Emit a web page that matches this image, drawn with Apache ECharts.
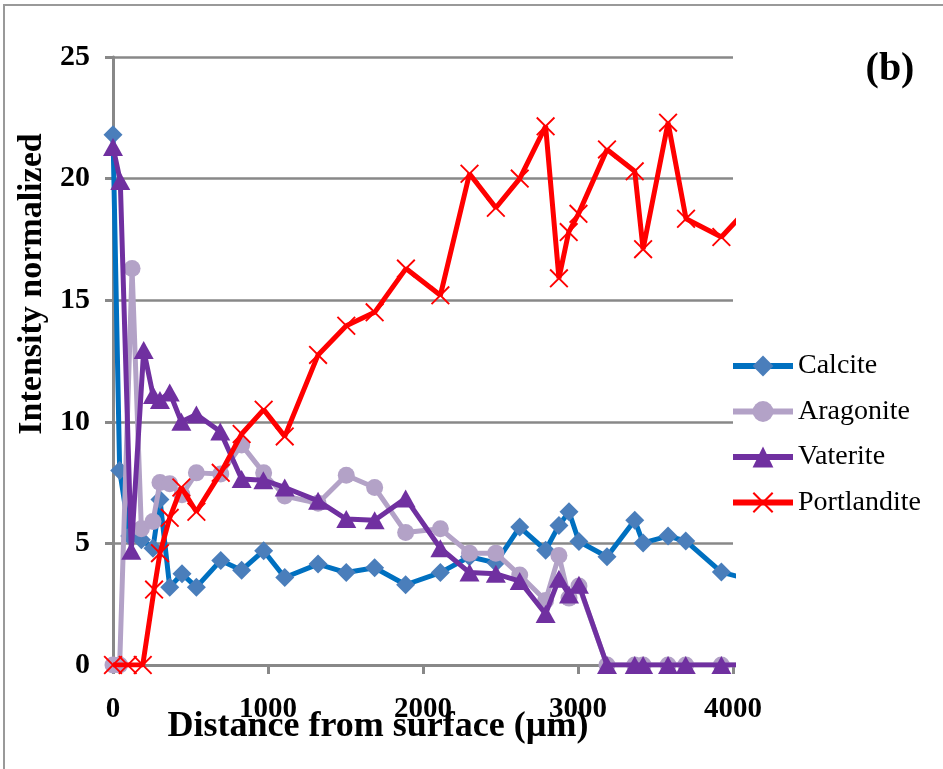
<!DOCTYPE html>
<html>
<head>
<meta charset="utf-8">
<script src="https://cdn.jsdelivr.net/npm/echarts@6/dist/echarts.min.js"></script>
<style>html,body{margin:0;padding:0;background:#fff}#c{width:943px;height:769px}</style>
</head>
<body>
<div id="c"></div>
<script>
// Distance from surface (µm), value pairs
const calcite = [[0,21.8],[43,8.0],[108,5.3],[183,5.15],[258,4.8],[303,6.8],[366,3.2],[445,3.75],[538,3.2],[695,4.3],[830,3.9],[972,4.7],[1108,3.6],[1323,4.15],[1505,3.8],[1688,4.0],[1888,3.3],[2112,3.8],[2300,4.45],[2470,4.2],[2624,5.67],[2791,4.72],[2877,5.74],[2942,6.3],[3006,5.08],[3187,4.45],[3366,5.95],[3420,5.02],[3581,5.3],[3695,5.1],[3925,3.82],[4100,3.52]];
const aragonite = [[0,0],[43,0],[123,16.3],[183,5.6],[258,5.9],[303,7.5],[366,7.45],[445,7.0],[538,7.9],[695,7.85],[830,9.05],[972,7.9],[1108,6.95],[1323,6.65],[1505,7.8],[1688,7.3],[1888,5.45],[2112,5.6],[2300,4.6],[2470,4.6],[2624,3.7],[2791,2.65],[2877,4.5],[2942,2.75],[3006,3.25],[3187,0],[3366,0],[3420,0],[3581,0],[3695,0],[3925,0],[4100,0]];
const vaterite = [[0,21.3],[47,19.9],[118,4.7],[198,12.95],[258,11.1],[303,10.9],[366,11.2],[441,10.0],[538,10.3],[692,9.6],[830,7.65],[970,7.6],[1108,7.3],[1323,6.75],[1505,6.0],[1688,5.95],[1888,6.85],[2112,4.8],[2300,3.8],[2470,3.75],[2624,3.45],[2791,2.1],[2877,3.55],[2942,2.9],[3006,3.3],[3187,0],[3366,0],[3420,0],[3581,0],[3695,0],[3925,0],[4100,0]];
const portlandite = [[0,0],[95,0],[192,0],[265,3.1],[303,4.6],[366,6.05],[441,7.3],[538,6.3],[695,7.9],[830,9.5],[972,10.5],[1108,9.4],[1323,12.75],[1505,13.95],[1688,14.5],[1890,16.3],[2112,15.2],[2300,20.2],[2470,18.8],[2624,20.0],[2791,22.15],[2877,15.9],[2940,17.8],[3003,18.55],[3187,21.2],[3366,20.3],[3420,17.1],[3581,22.3],[3697,18.35],[3925,17.6],[4100,18.8]];
const seriesNames = ['Calcite','Aragonite','Vaterite','Portlandite'];
const xTicks = [0,1000,2000,3000,4000];
const yTicks = [0,5,10,15,20,25];

const serif = '"Liberation Serif","Times New Roman",serif';
const crossPath = 'path://M0,0.7L0.7,0L10,9.3L9.3,10Z M9.3,0L10,0.7L0.7,10L0,9.3Z';

const chart = echarts.init(document.getElementById('c'), null, {renderer:'canvas'});
chart.setOption({
  animation:false,
  backgroundColor:'#fff',
  grid:{left:113, right:210, top:57, bottom:104, containLabel:false},
  xAxis:{type:'value', min:xTicks[0], max:xTicks[xTicks.length-1], interval:1000,
    axisLine:{lineStyle:{color:'#888', width:3}},
    axisTick:{show:true, length:9, lineStyle:{color:'#888', width:3}},
    splitLine:{show:false},
    axisLabel:{margin:30, color:'#000', fontFamily:serif, fontWeight:'bold', fontSize:29,
      formatter:v=>String(v)}},
  yAxis:{type:'value', min:yTicks[0], max:yTicks[yTicks.length-1], interval:5,
    axisLine:{show:true, lineStyle:{color:'#888', width:3}},
    axisTick:{show:true, length:8, lineStyle:{color:'#888', width:3}},
    splitLine:{show:true, lineStyle:{color:'#888', width:2.5}},
    axisLabel:{margin:23, color:'#000', fontFamily:serif, fontWeight:'bold', fontSize:30,
      formatter:v=>String(v)}},
  legend:{orient:'vertical', left:725, top:346, itemWidth:60, itemHeight:26, itemGap:15.5,
    lineStyle:{width:6},
    textStyle:{fontFamily:serif, fontSize:28, color:'#000', lineHeight:30},
    data:seriesNames},
  series:[
    {name:seriesNames[0], type:'line', data:calcite, symbol:'diamond', symbolSize:[19,19],
      lineStyle:{color:'#0070c0', width:5}, itemStyle:{color:'#4a7ebb'}, z:2},
    {name:seriesNames[1], type:'line', data:aragonite, symbol:'circle', symbolSize:17,
      lineStyle:{color:'#b3a2c7', width:5}, itemStyle:{color:'#b3a2c7'}, z:3},
    {name:seriesNames[2], type:'line', data:vaterite, symbol:'triangle', symbolSize:[20,18],
      lineStyle:{color:'#7030a0', width:5}, itemStyle:{color:'#7030a0'}, z:4},
    {name:seriesNames[3], type:'line', data:portlandite, symbol:crossPath, symbolSize:19,
      lineStyle:{color:'#ff0000', width:5}, itemStyle:{color:'#ff0000'}, z:5}
  ],
  graphic:[
    {type:'rect', shape:{x:4, y:5, width:1000, height:900}, style:{fill:'none', stroke:'#999', lineWidth:2}, silent:true, z:-1},
    {type:'text', x:378, y:727, style:{text:'Distance from surface (µm)', font:'bold 36px '+serif, fill:'#000', textAlign:'center', textVerticalAlign:'middle'}},
    {type:'text', x:32, y:284, rotation:Math.PI/2, style:{text:'Intensity normalized', font:'bold 34px '+serif, fill:'#000', textAlign:'center', textVerticalAlign:'middle'}},
    {type:'text', x:890, y:70, style:{text:'(b)', font:'bold 40px '+serif, fill:'#000', textAlign:'center', textVerticalAlign:'middle'}}
  ]
});
</script>
</body>
</html>
